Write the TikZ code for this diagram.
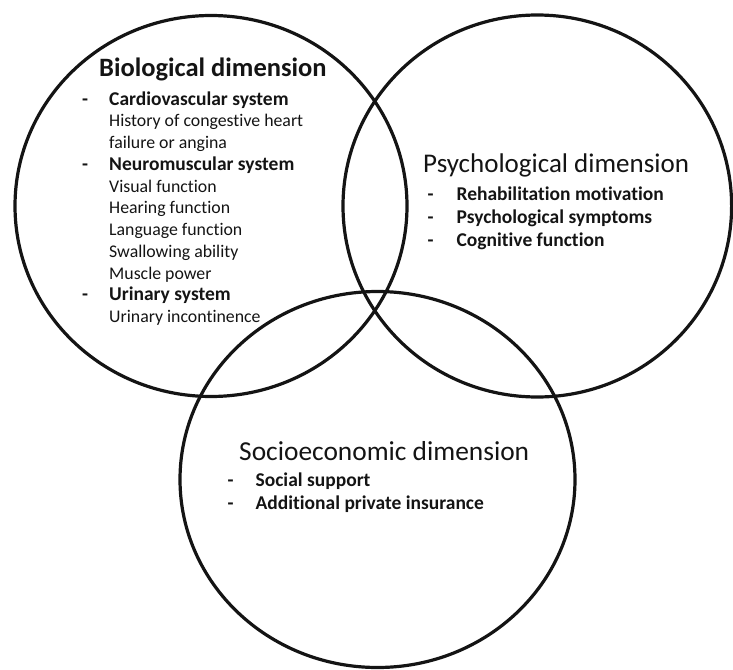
\documentclass[tikz,border=0pt]{standalone}
\usepackage{fontspec}
\setmainfont[Ligatures=NoCommon]{Carlito}
\definecolor{inkgray}{gray}{0.08}
\newcommand\itemfont{\fontsize{19.5}{21.75}\selectfont\bfseries}
\newcommand\notefont{\fontsize{17.8}{21.75}\selectfont\mdseries}
\tikzset{
  ring/.style={line width=3.2pt, draw=black!92},
  dimtitle/.style={anchor=base west, inner sep=0pt, text=inkgray,
    font=\fontsize{27}{30}\selectfont},
  dimlist/.style={anchor=base west, inner sep=0pt, text=inkgray}
}

\begin{document}
\begin{tikzpicture}[x=1pt,y=-1pt]

\def\biocircle{(211,206) ellipse (196pt and 190.5pt)}
\def\psycircle{(537.3,206) ellipse (194.3pt and 191pt)}
\def\socircle{(377.5,479.5) ellipse (197.5pt and 188pt)}

\useasboundingbox (0,0) rectangle (733,669);

\draw[ring] \biocircle;
\draw[ring] \psycircle;
\draw[ring] \socircle;

% biological
\node[dimtitle, font=\fontsize{26.5}{30}\selectfont\bfseries] (biotitle) at (99,77) {Biological dimension};
\node[dimlist] (biolist) at (82,105) {\itemfont
  \begin{tabular}[t]{@{}p{27pt}@{}l@{}}
  - & Cardiovascular system\\
    & \notefont History of congestive heart\\
    & \notefont failure or angina\\
  - & Neuromuscular system\\
    & \notefont Visual function\\
    & \notefont Hearing function\\
    & \notefont Language function\\
    & \notefont Swallowing ability\\
    & \notefont Muscle power\\
  - & Urinary system\\
    & \notefont Urinary incontinence
  \end{tabular}};

% psychological
\node[dimtitle] (psytitle) at (423,172) {Psychological dimension};
\node[dimlist] (psylist) at (423,200) {\itemfont\renewcommand\arraystretch{1.08}
  \begin{tabular}[t]{@{}p{29pt}@{}l@{}}
  - & Rehabilitation motivation\\
  - & Psychological symptoms\\
  - & Cognitive function
  \end{tabular}};

% socioeconomic
\node[dimtitle, font=\fontsize{27.4}{30}\selectfont] (sotitle) at (239,460) {Socioeconomic dimension};
\node[dimlist] (solist) at (223,486) {\itemfont\renewcommand\arraystretch{1.08}
  \begin{tabular}[t]{@{}p{28pt}@{}l@{}}
  - & Social support\\
  - & Additional private insurance
  \end{tabular}};

\end{tikzpicture}
\end{document}
